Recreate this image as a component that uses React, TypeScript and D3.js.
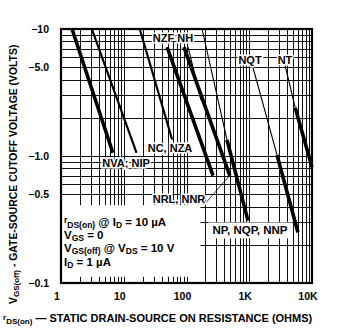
import React, { useEffect, useRef } from "react";
import * as d3 from "d3";

// curve segments: resistance in ohms, cutoff voltage magnitude in volts
const segR0 = [1.5, 3.1, 18, 49, 91, 106, 177, 442, 1107, 2770, 3715, 5400];
const segV0 = [10, 10, 10, 7.2, 7.2, 7.2, 10, 1.34, 5.3, 1.02, 5.2, 2.4];
const segR1 = [6.7, 16, 59, 265, 490, 170, 442, 955, 2770, 5980, 5400, 10000];
const segV1 = [1.06, 1.06, 1.35, 0.7, 0.7, 2.76, 1.34, 0.31, 1.02, 0.25, 2.4, 0.82];
const segKind = ["heavy", "medium", "medium", "heavy", "heavy", "light", "light", "heavy", "light", "heavy", "light", "heavy"];

// part-number labels, centred at (ohms, volts)
const labelText = ["NVA; NIP", "NC, NZA", "NRL, NNR", "NZF NH", "NQT", "NT"];
const labelR = [10.9, 54.6, 76, 61, 1028, 3715];
const labelV = [0.88, 1.16, 0.46, 8.5, 5.7, 5.7];

const boxedLabel = "NP, NQP, NNP";
const boxedR = 1028;
const boxedV = 0.26;

// leader from NRL, NNR label to its curve
const leaderR = [205, 510];
const leaderV = [0.43, 0.72];

const xTicks = [1, 10, 100, 1000, 10000];
const xTickLabels = ["1", "10", "100", "1K", "10K"];
const yTicks = [10, 5, 1, 0.5, 0.1];
const yTickLabels = ["\u221210", "\u22125.0", "\u22121.0", "\u22120.5", "\u22120.1"];

const FONT = "'Liberation Sans', Arial, sans-serif";

const App = () => {
  const svgRef = useRef<SVGSVGElement>(null);

  useEffect(() => {
    document.body.style.margin = "0";
    const svg = d3.select(svgRef.current);
    svg.selectAll("*").remove();

    const width = 343;
    const height = 330;
    const margin = { top: 29, right: 31, bottom: 47, left: 61 };

    const x = d3.scaleLog().domain([1, 10000]).range([margin.left, width - margin.right]);
    const y = d3.scaleLog().domain([0.1, 10]).range([height - margin.bottom, margin.top]);

    svg.append("rect").attr("width", width).attr("height", height).attr("fill", "#fff");

    // log grid
    const grid = svg.append("g").attr("stroke", "#111").attr("shape-rendering", "crispEdges");
    const xGrid: number[] = [];
    [1, 10, 100, 1000].forEach(d => d3.range(1, 10).forEach(k => xGrid.push(d * k)));
    xGrid.push(10000);
    const yGrid: number[] = [];
    [0.1, 1].forEach(d => d3.range(1, 10).forEach(k => yGrid.push(+(d * k).toFixed(2))));
    yGrid.push(10);

    grid.selectAll(".vx").data(xGrid).join("line")
      .attr("x1", d => Math.round(x(d)) + 0.5).attr("x2", d => Math.round(x(d)) + 0.5)
      .attr("y1", y(10)).attr("y2", y(0.1))
      .attr("stroke-width", d => (Math.log10(d) % 1 === 0 ? 1.6 : 1));
    grid.selectAll(".hy").data(yGrid).join("line")
      .attr("y1", d => Math.round(y(d)) + 0.5).attr("y2", d => Math.round(y(d)) + 0.5)
      .attr("x1", x(1)).attr("x2", x(10000))
      .attr("stroke-width", d => (d === 1 || d === 5 || d === 0.5 ? 1.6 : 1));

    // white area for the test notes
    svg.append("rect")
      .attr("x", x(1) + 1).attr("y", y(0.41))
      .attr("width", x(160) - x(1)).attr("height", y(0.112) - y(0.41))
      .attr("fill", "#fff");

    // curves
    const widthOf: Record<string, number> = { heavy: 3.6, medium: 2.2, light: 1.1 };
    svg.append("g").selectAll("line").data(segR0).join("line")
      .attr("x1", (d, i) => x(segR0[i])).attr("y1", (d, i) => y(segV0[i]))
      .attr("x2", (d, i) => x(segR1[i])).attr("y2", (d, i) => y(segV1[i]))
      .attr("stroke", "#000")
      .attr("stroke-width", (d, i) => widthOf[segKind[i]]);

    // leader
    svg.append("line")
      .attr("x1", x(leaderR[0])).attr("y1", y(leaderV[0]))
      .attr("x2", x(leaderR[1])).attr("y2", y(leaderV[1]))
      .attr("stroke", "#000").attr("stroke-width", 0.8);

    // frame
    svg.append("rect")
      .attr("x", x(1)).attr("y", y(10))
      .attr("width", x(10000) - x(1)).attr("height", y(0.1) - y(10))
      .attr("fill", "none").attr("stroke", "#000").attr("stroke-width", 2.2);

    // labels with a white halo knocking out the grid
    svg.append("g").selectAll("text").data(labelText).join("text")
      .attr("x", (d, i) => x(labelR[i])).attr("y", (d, i) => y(labelV[i]))
      .attr("dy", "0.36em")
      .attr("text-anchor", "middle")
      .attr("font-family", FONT).attr("font-weight", "bold").attr("font-size", 11)
      .attr("stroke", "#fff").attr("stroke-width", 3).attr("paint-order", "stroke")
      .attr("fill", "#000")
      .text(d => d);

    const bl = svg.append("text")
      .attr("x", x(boxedR)).attr("y", y(boxedV)).attr("dy", "0.36em")
      .attr("text-anchor", "middle")
      .attr("font-family", FONT).attr("font-weight", "bold").attr("font-size", 11.5)
      .text(boxedLabel);
    const bb = (bl.node() as SVGTextElement).getBBox();
    svg.insert("rect", () => bl.node())
      .attr("x", bb.x - 4).attr("y", bb.y - 2)
      .attr("width", bb.width + 8).attr("height", bb.height + 4)
      .attr("fill", "#fff");

    // test conditions
    const notes = svg.append("g")
      .attr("font-family", FONT).attr("font-weight", "bold").attr("font-size", 11.5);
    const sub = (t: d3.Selection<SVGTextElement, unknown, null, undefined>, s: string, fs = 8.5) =>
      t.append("tspan").attr("font-size", fs).attr("baseline-shift", "-25%").text(s);
    const nx = x(1) + 3;
    let t = notes.append("text").attr("x", nx).attr("y", 226);
    t.append("tspan").attr("font-size", 8.5).attr("baseline-shift", "30%").text("r");
    sub(t, "DS(on)");
    t.append("tspan").text(" @ I");
    sub(t, "D");
    t.append("tspan").text(" = 10 \u00b5A");
    t = notes.append("text").attr("x", nx).attr("y", 239);
    t.append("tspan").text("V");
    sub(t, "GS");
    t.append("tspan").text(" = 0");
    t = notes.append("text").attr("x", nx).attr("y", 252);
    t.append("tspan").text("V");
    sub(t, "GS(off)");
    t.append("tspan").text(" @ V");
    sub(t, "DS");
    t.append("tspan").text(" = 10 V");
    t = notes.append("text").attr("x", nx).attr("y", 266);
    t.append("tspan").text("I");
    sub(t, "D");
    t.append("tspan").text(" = 1 \u00b5A");

    // tick labels
    svg.append("g").selectAll("text").data(xTicks).join("text")
      .attr("x", d => x(d) - 4).attr("y", y(0.1) + 17)
      .attr("text-anchor", "middle")
      .attr("font-family", FONT).attr("font-weight", "bold").attr("font-size", 10.5)
      .text((d, i) => xTickLabels[i]);
    svg.append("g").selectAll("text").data(yTicks).join("text")
      .attr("x", x(1) - 12).attr("y", d => y(d)).attr("dy", "0.35em")
      .attr("text-anchor", "end")
      .attr("font-family", FONT).attr("font-weight", "bold").attr("font-size", 10.5)
      .text((d, i) => yTickLabels[i]);

    // axis titles
    const xt = svg.append("text")
      .attr("x", 3).attr("y", 322)
      .attr("font-family", FONT).attr("font-weight", "bold").attr("font-size", 11);
    xt.append("tspan").attr("font-size", 8).attr("baseline-shift", "30%").text("r");
    sub(xt, "DS(on)", 8);
    xt.append("tspan").text(" \u2014 STATIC DRAIN-SOURCE ON RESISTANCE (OHMS)");

    const yt = svg.append("text")
      .attr("transform", "translate(17,304) rotate(-90)")
      .attr("font-family", FONT).attr("font-weight", "bold").attr("font-size", 10.4);
    yt.append("tspan").text("V");
    sub(yt, "GS(off)", 8);
    yt.append("tspan").text("  -  GATE-SOURCE CUTOFF VOLTAGE (VOLTS)");
  }, []);

  return <svg ref={svgRef} width={343} height={330} style={{ display: "block" }}></svg>;
};

export default App;
